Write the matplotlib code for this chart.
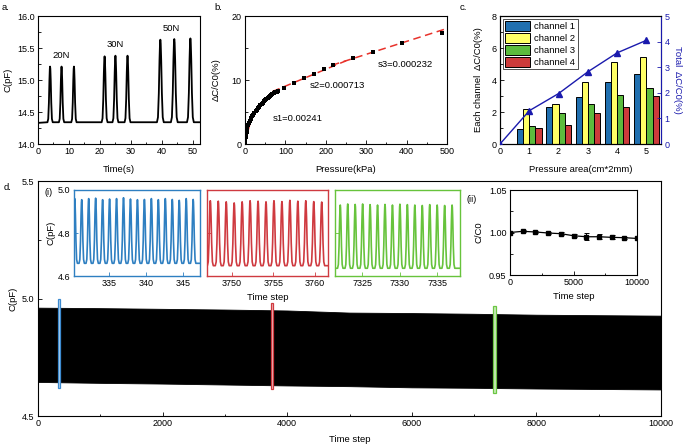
import numpy as np
import matplotlib
matplotlib.use("Agg")
import matplotlib.pyplot as plt
from matplotlib.patches import Rectangle
from matplotlib.ticker import MultipleLocator

plt.rcParams['font.family'] = ['Liberation Sans', 'DejaVu Sans']
plt.rcParams['mathtext.default'] = 'regular'

# ---------------- data ----------------
# panel a
a_peak_t = [3.9, 7.6, 11.6, 21.5, 25.0, 28.9, 39.5, 44.0, 49.2]
a_peak_v = [15.21, 15.21, 15.21, 15.37, 15.38, 15.38, 15.63, 15.64, 15.65]
a_base = 14.34
a_labels = ["20N", "30N", "50N"]
a_label_x = [7.6, 24.8, 43.1]
a_label_y = [15.39, 15.55, 15.80]

# panel b
b_press = [0.5, 1, 2, 3, 4, 5, 6, 8, 10, 12, 14, 16, 18, 20, 23, 26, 29, 32, 35, 38,
           41, 44, 47, 50, 53, 56, 59, 62, 65, 68, 71, 74, 78, 82,
           97, 122, 146, 171, 195, 219, 268, 316, 389, 487]
b_val = [0.3, 0.6, 1.1, 1.5, 1.9, 2.2, 2.5, 2.9, 3.25, 3.55, 3.85, 4.1, 4.35, 4.55, 4.85, 5.1,
         5.35, 5.6, 5.85, 6.05, 6.25, 6.45, 6.65, 6.85, 7.0, 7.15, 7.3, 7.45, 7.6, 7.75,
         7.9, 8.05, 8.2, 8.35,
         8.69, 9.47, 10.25, 10.97, 11.65, 12.27, 13.37, 14.4, 15.71, 17.27]
b_fit_x = [[0, 22], [68, 250], [215, 495]]
b_fit_y = [[0.2, 5.6], [8.2, 13.0], [12.3, 17.95]]
b_texts = ["s1=0.00241", "s2=0.000713", "s3=0.000232"]
b_text_x = [68, 160, 328]
b_text_y = [4.05, 9.2, 12.5]

# panel c
c_area = [1, 2, 3, 4, 5]
c_ch1 = [0.94, 2.33, 2.95, 3.89, 4.37]
c_ch2 = [2.18, 2.49, 3.89, 5.14, 5.41]
c_ch3 = [1.12, 1.91, 2.49, 3.06, 3.53]
c_ch4 = [0.98, 1.19, 1.91, 2.33, 2.99]
c_names = ["channel 1", "channel 2", "channel 3", "channel 4"]
c_tot_x = [0, 1, 2, 3, 4, 5]
c_total = [0.0, 1.30, 1.97, 2.82, 3.56, 4.05]

# panel d (main)
d_steps = [0, 1000, 2000, 3000, 4000, 5000, 6000, 7000, 8000, 9000, 10000]
d_upper = [4.961, 4.959, 4.956, 4.953, 4.949, 4.940, 4.938, 4.935, 4.931, 4.929, 4.927]
d_lower = [4.645, 4.641, 4.638, 4.634, 4.630, 4.627, 4.622, 4.620, 4.617, 4.615, 4.613]
d_win_x = [[320, 357], [3737, 3772], [7311, 7348]]
d_win_y = [[4.619, 4.996], [4.614, 4.979], [4.597, 4.966]]

# insets (i)
i_first = [330.4, 3747.4, 7322.1]
i_period = [0.94, 0.96, 0.99]
i_peaks = [
    [4.960, 4.955, 4.960, 4.962, 4.955, 4.958, 4.960, 4.964, 4.958, 4.955, 4.956, 4.960,
     4.955, 4.960, 4.956, 4.952, 4.960, 4.956],
    [4.950, 4.948, 4.945, 4.940, 4.945, 4.950, 4.948, 4.945, 4.950, 4.946, 4.952, 4.948,
     4.950, 4.946, 4.944],
    [4.930, 4.935, 4.933, 4.935, 4.932, 4.930, 4.933, 4.930, 4.934, 4.932, 4.930, 4.928,
     4.932, 4.930, 4.928, 4.930],
]
i_trough = [4.659, 4.648, 4.636]
i_xlim = [[330.3, 347.3], [3747.0, 3761.6], [7321.4, 7338.0]]
i_xticks = [[335, 340, 345], [3750, 3755, 3760], [7325, 7330, 7335]]

# inset (ii)
ii_steps = [0, 1000, 2000, 3000, 4000, 5000, 6000, 7000, 8000, 9000, 10000]
ii_ratio = [1.000, 1.0014, 1.0006, 0.9994, 0.9986, 0.9962, 0.995, 0.995, 0.9943, 0.9939, 0.993]
ii_err = [0.001, 0.0012, 0.001, 0.001, 0.0015, 0.0015, 0.004, 0.003, 0.0025, 0.0012, 0.001]

# ---------------- helpers ----------------
W, H = 685, 444
fig = plt.figure(figsize=(W / 100, H / 100), dpi=100)

def ax_px(x0, x1, y0, y1):
    return fig.add_axes([x0 / W, 1 - y1 / H, (x1 - x0) / W, (y1 - y0) / H])

TS = 6.5
LS = 6.8

def style(ax, color='black', lw=0.8):
    ax.tick_params(which='both', direction='in', labelsize=TS, width=0.6,
                   top=False, right=False, pad=2.5, color=color)
    ax.tick_params(which='major', length=3)
    ax.tick_params(which='minor', length=1.8)
    for s in ax.spines.values():
        s.set_linewidth(lw)
        s.set_color(color)

offs = np.array([-1.0, -0.7, -0.45, -0.25, -0.1, 0.0, 0.1, 0.25, 0.45, 0.7, 1.0])
fracs = np.array([0.0, 0.06, 0.35, 0.75, 0.96, 1.0, 0.96, 0.75, 0.35, 0.06, 0.0])

def pulses(ts, vs, base, hw, x0, x1):
    xs = [x0]
    ys = [base]
    for t, v in zip(ts, vs):
        xs.extend(list(t + offs * hw))
        ys.extend(list(base + fracs * (v - base)))
    xs.append(x1)
    ys.append(base)
    return np.array(xs), np.array(ys)

# ---------------- panel a ----------------
axa = ax_px(38, 200, 16, 144)
style(axa)
hw_a = [0.85, 0.85, 0.85, 0.95, 0.95, 0.95, 1.1, 1.1, 1.1]
xs = [0.0]; ys = [a_base - 0.01]
for t, v, h in zip(a_peak_t, a_peak_v, hw_a):
    xs.extend(list(t + offs * h)); ys.extend(list(a_base + fracs * (v - a_base)))
xs.append(52.3); ys.append(a_base)
axa.plot(xs, ys, color='black', lw=1.3)
axa.set_xlim(0, 52.3)
axa.set_ylim(14.0, 16.0)
axa.xaxis.set_major_locator(MultipleLocator(10))
axa.xaxis.set_minor_locator(MultipleLocator(5))
axa.yaxis.set_major_locator(MultipleLocator(0.5))
axa.yaxis.set_minor_locator(MultipleLocator(0.25))
axa.yaxis.set_major_formatter(matplotlib.ticker.FormatStrFormatter('%.1f'))
axa.set_xlabel("Time(s)", fontsize=LS, labelpad=6)
axa.set_ylabel("C(pF)", fontsize=LS, labelpad=3)
for t, x, y in zip(a_labels, a_label_x, a_label_y):
    axa.text(x, y, t, fontsize=LS, ha='center', va='center')

# ---------------- panel b ----------------
axb = ax_px(245, 447, 16, 144)
style(axb)
axb.scatter(b_press, b_val, marker='s', s=7, color='black', zorder=3, linewidths=0)
for fx, fy in zip(b_fit_x, b_fit_y):
    axb.plot(fx, fy, color='#e8322b', lw=1.1, ls=(0, (5, 3)), zorder=2)
axb.set_xlim(0, 500)
axb.set_ylim(0, 20)
axb.xaxis.set_major_locator(MultipleLocator(100))
axb.xaxis.set_minor_locator(MultipleLocator(50))
axb.yaxis.set_major_locator(MultipleLocator(10))
axb.yaxis.set_minor_locator(MultipleLocator(5))
axb.set_xlabel("Pressure(kPa)", fontsize=LS, labelpad=6)
axb.set_ylabel("ΔC/C0(%)", fontsize=LS, labelpad=8)
for t, x, y in zip(b_texts, b_text_x, b_text_y):
    axb.text(x, y, t, fontsize=LS, ha='left', va='center')

# ---------------- panel c ----------------
axc = ax_px(500, 661, 16, 144)
style(axc)
bw = 0.21
cols = ['#2170b0', '#ffff66', '#5cbb3d', '#cc3b3b']
area = np.array(c_area, dtype=float)
for k, (vals, col, name) in enumerate(zip([c_ch1, c_ch2, c_ch3, c_ch4], cols, c_names)):
    axc.bar(area + (k - 1.5) * bw, vals, width=bw, color=col, edgecolor='black',
            linewidth=0.7, label=name, zorder=2)
axc.set_xlim(0, 5.5)
axc.set_ylim(0, 8)
axc.xaxis.set_major_locator(MultipleLocator(1))
axc.yaxis.set_major_locator(MultipleLocator(2))
axc.yaxis.set_minor_locator(MultipleLocator(1))
axc.set_xlabel("Pressure area(cm*2mm)", fontsize=LS, labelpad=6)
axc.set_ylabel("Each channel  ΔC/C0(%)", fontsize=LS, labelpad=6)
leg = axc.legend(loc='upper left', fontsize=LS, handlelength=2.6, handleheight=1.2,
                 labelspacing=0.2, borderpad=0.25, handletextpad=0.5,
                 borderaxespad=0.3, frameon=True, fancybox=False)
leg.get_frame().set_edgecolor('black')
leg.get_frame().set_linewidth(0.6)
axc2 = axc.twinx()
blue = '#1a1aad'
axc2.plot(c_tot_x, c_total, color=blue, lw=1.0, marker='^', ms=4, zorder=5)
axc2.set_ylim(0, 5)
axc2.yaxis.set_major_locator(MultipleLocator(1))
axc2.tick_params(which='both', direction='in', labelsize=TS, width=0.6, length=3,
                 colors=blue, pad=2.5)
for s in axc2.spines.values():
    s.set_linewidth(0.8)
axc2.spines['right'].set_color(blue)
axc2.set_ylabel("Total  ΔC/C0(%)", fontsize=LS, color=blue, rotation=270, labelpad=9)

# ---------------- panel d ----------------
axd = ax_px(38, 661, 181, 416)
style(axd)
axd.fill_between(d_steps, d_lower, d_upper, color='black', lw=0.6, edgecolor='black')
wcols = ['#3d8bd0', '#d0393f', '#6cc644']
wfill = ['#bcd8f0', '#f0c0c2', '#c8ecb8']
for (x0, x1), (y0, y1), ec, fc in zip(d_win_x, d_win_y, wcols, wfill):
    axd.add_patch(Rectangle((x0, y0), x1 - x0, y1 - y0, facecolor=fc, edgecolor=ec,
                            lw=0.9, zorder=3))
axd.set_xlim(0, 10000)
axd.set_ylim(4.5, 5.5)
axd.xaxis.set_major_locator(MultipleLocator(2000))
axd.xaxis.set_minor_locator(MultipleLocator(1000))
axd.yaxis.set_major_locator(MultipleLocator(0.5))
axd.yaxis.set_minor_locator(MultipleLocator(0.25))
axd.yaxis.set_major_formatter(matplotlib.ticker.FormatStrFormatter('%.1f'))
axd.set_xlabel("Time step", fontsize=LS, labelpad=5)
axd.set_ylabel("C(pF)", fontsize=LS, labelpad=3)

# insets (i)
inset_px = [(74, 200), (207, 328), (335, 460)]
line_cols = ['#2e7fc1', '#cf3a40', '#67c33c']
for k in range(3):
    x0, x1 = inset_px[k]
    ax = ax_px(x0, x1, 190, 276)
    style(ax, color=line_cols[k], lw=1.0)
    ax.tick_params(which='both', labelcolor='black')
    n = len(i_peaks[k])
    ts = [i_first[k] + j * i_period[k] for j in range(n)]
    px, py = pulses(ts, i_peaks[k], i_trough[k], 0.36, i_xlim[k][0], i_xlim[k][1])
    ax.plot(px, py, color=line_cols[k], lw=1.2)
    ax.set_xlim(*i_xlim[k])
    ax.set_ylim(4.6, 5.0)
    ax.set_xticks(i_xticks[k])
    ax.set_yticks([4.6, 4.8, 5.0])
    if k == 0:
        ax.yaxis.set_major_formatter(matplotlib.ticker.FormatStrFormatter('%.1f'))
        ax.set_ylabel("C(pF)", fontsize=LS, labelpad=2)
    else:
        ax.set_yticklabels([])
    if k == 1:
        ax.set_xlabel("Time step", fontsize=LS, labelpad=3)
fig.text(49 / W, 1 - 192 / H, "(i)", fontsize=TS, ha='center', va='center')

# inset (ii)
ax2 = ax_px(510, 637, 190, 275)
style(ax2)
ax2.errorbar(ii_steps, ii_ratio, yerr=ii_err, color='black', lw=0.9, marker='s', ms=2.5,
             capsize=1.8, elinewidth=0.7, capthick=0.7)
ax2.set_xlim(0, 10000)
ax2.set_ylim(0.95, 1.05)
ax2.set_xticks([0, 5000, 10000])
ax2.xaxis.set_minor_locator(MultipleLocator(2500))
ax2.set_yticks([0.95, 1.00, 1.05])
ax2.yaxis.set_minor_locator(MultipleLocator(0.025))
ax2.yaxis.set_major_formatter(matplotlib.ticker.FormatStrFormatter('%.2f'))
ax2.set_xlabel("Time step", fontsize=LS, labelpad=3)
ax2.set_ylabel("C/C0", fontsize=LS, labelpad=4)
fig.text(472 / W, 1 - 199 / H, "(ii)", fontsize=TS, ha='center', va='center')

# panel letters
for t, x, y in [("a.", 6, 7), ("b.", 218, 7), ("c.", 463, 7), ("d.", 8, 187)]:
    fig.text(x / W, 1 - y / H, t, fontsize=LS, ha='center', va='center')

fig.savefig("out.png", dpi=100)
